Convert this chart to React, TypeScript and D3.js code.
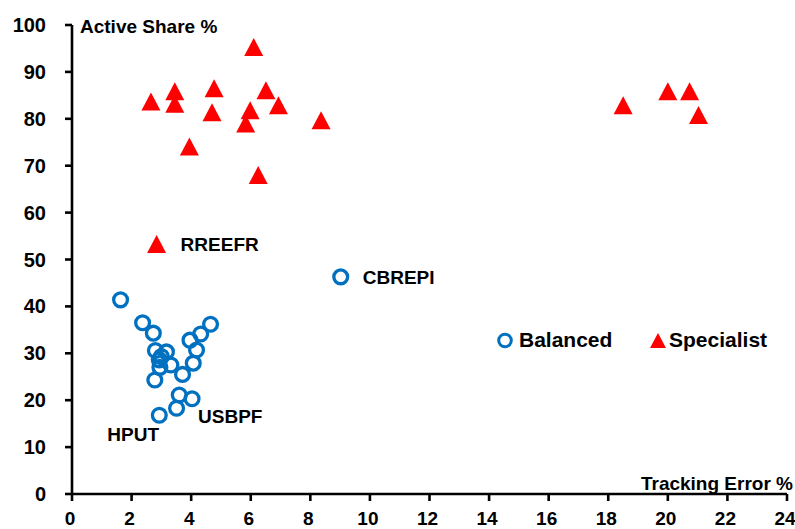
import React from "react";
import * as d3 from "d3";

const balancedTE = [1.63, 2.37, 2.73, 2.8, 3.17, 2.93, 2.95, 3.32, 2.78, 2.93, 3.51, 3.6, 4.03, 3.71, 4.07, 4.18, 3.96, 4.32, 4.65, 3.0, 9.02];
const balancedAS = [41.4, 36.5, 34.3, 30.6, 30.3, 28.6, 27.0, 27.5, 24.3, 16.8, 18.3, 21.1, 20.3, 25.5, 27.9, 30.7, 32.8, 34.1, 36.2, 29.3, 46.3];

const specialistTE = [6.1, 2.65, 3.45, 3.45, 4.77, 4.7, 6.51, 6.93, 5.98, 5.83, 8.36, 3.94, 6.25, 2.84, 18.5, 20.0, 20.73, 21.03];
const specialistAS = [95.3, 83.7, 85.9, 83.2, 86.5, 81.4, 86.1, 82.9, 81.8, 79.0, 79.7, 74.1, 68.0, 53.3, 82.9, 85.9, 85.9, 80.8];

const xTicks = [0, 2, 4, 6, 8, 10, 12, 14, 16, 18, 20, 22, 24];
const yTicks = [0, 10, 20, 30, 40, 50, 60, 70, 80, 90, 100];

const pointLabels = [
  { text: "RREEFR", te: 2.84, as: 53.3, dx: 24, dy: 7 },
  { text: "CBREPI", te: 9.02, as: 46.3, dx: 22, dy: 7 },
  { text: "HPUT", te: 2.93, as: 16.8, dx: -52, dy: 26 },
  { text: "USBPF", te: 4.03, as: 20.3, dx: 6, dy: 24 },
];

const W = 795;
const H = 529;
const FONT = "'Liberation Sans', Arial, Helvetica, sans-serif";
const BLUE = "#0070C0";
const RED = "#FF0000";

const tri = (w: number, h: number) =>
  `M0,${-h / 2}L${w / 2},${h / 2}L${-w / 2},${h / 2}Z`;

export default function App() {
  const x = d3.scaleLinear().domain([0, 24]).range([72, 787]);
  const y = d3.scaleLinear().domain([0, 100]).range([494, 25]);

  return (
    <svg
      width={W}
      height={H}
      style={{ position: "absolute", left: 0, top: 0, background: "#fff" }}
      fontFamily={FONT}
      fontWeight="bold"
    >
      <rect width={W} height={H} fill="#fff" />
      {/* axes */}
      <line x1={x(0)} x2={x(0)} y1={y(0)} y2={y(100)} stroke="#000" strokeWidth={2.6} />
      <line x1={x(0)} x2={x(24)} y1={y(0)} y2={y(0)} stroke="#000" strokeWidth={2.6} />
      {yTicks.map((t) => (
        <g key={"y" + t}>
          <line x1={x(0) - 7} x2={x(0)} y1={y(t)} y2={y(t)} stroke="#000" strokeWidth={2.6} />
          <text x={46} y={y(t) + 7} textAnchor="end" fontSize={20} fill="#000">
            {t}
          </text>
        </g>
      ))}
      {xTicks.map((t) => (
        <g key={"x" + t}>
          <line x1={x(t)} x2={x(t)} y1={y(0)} y2={y(0) + 7} stroke="#000" strokeWidth={2.6} />
          <text x={x(t) - 2} y={525} textAnchor="middle" fontSize={19} fill="#000">
            {t}
          </text>
        </g>
      ))}
      <text x={80} y={33} fontSize={19} fill="#000">Active Share %</text>
      <text x={793} y={490} textAnchor="end" fontSize={19} fill="#000">Tracking Error %</text>

      {/* balanced */}
      {balancedTE.map((v, i) => (
        <circle
          key={"b" + i}
          cx={x(v)}
          cy={y(balancedAS[i])}
          r={6.9}
          fill="none"
          stroke={BLUE}
          strokeWidth={3.3}
        />
      ))}
      {/* specialist */}
      {specialistTE.map((v, i) => (
        <path
          key={"s" + i}
          d={tri(19, 18)}
          transform={`translate(${x(v)},${y(specialistAS[i])})`}
          fill={RED}
        />
      ))}

      {pointLabels.map((l) => (
        <text key={l.text} x={x(l.te) + l.dx} y={y(l.as) + l.dy} fontSize={19} fill="#000">
          {l.text}
        </text>
      ))}

      {/* legend */}
      <circle cx={505} cy={340.5} r={6.3} fill="none" stroke={BLUE} strokeWidth={3} />
      <text x={519} y={347} fontSize={21} fill="#000">Balanced</text>
      <path d={tri(16, 15)} transform="translate(658,340.5)" fill={RED} />
      <text x={669} y={347} fontSize={21} fill="#000">Specialist</text>
    </svg>
  );
}
